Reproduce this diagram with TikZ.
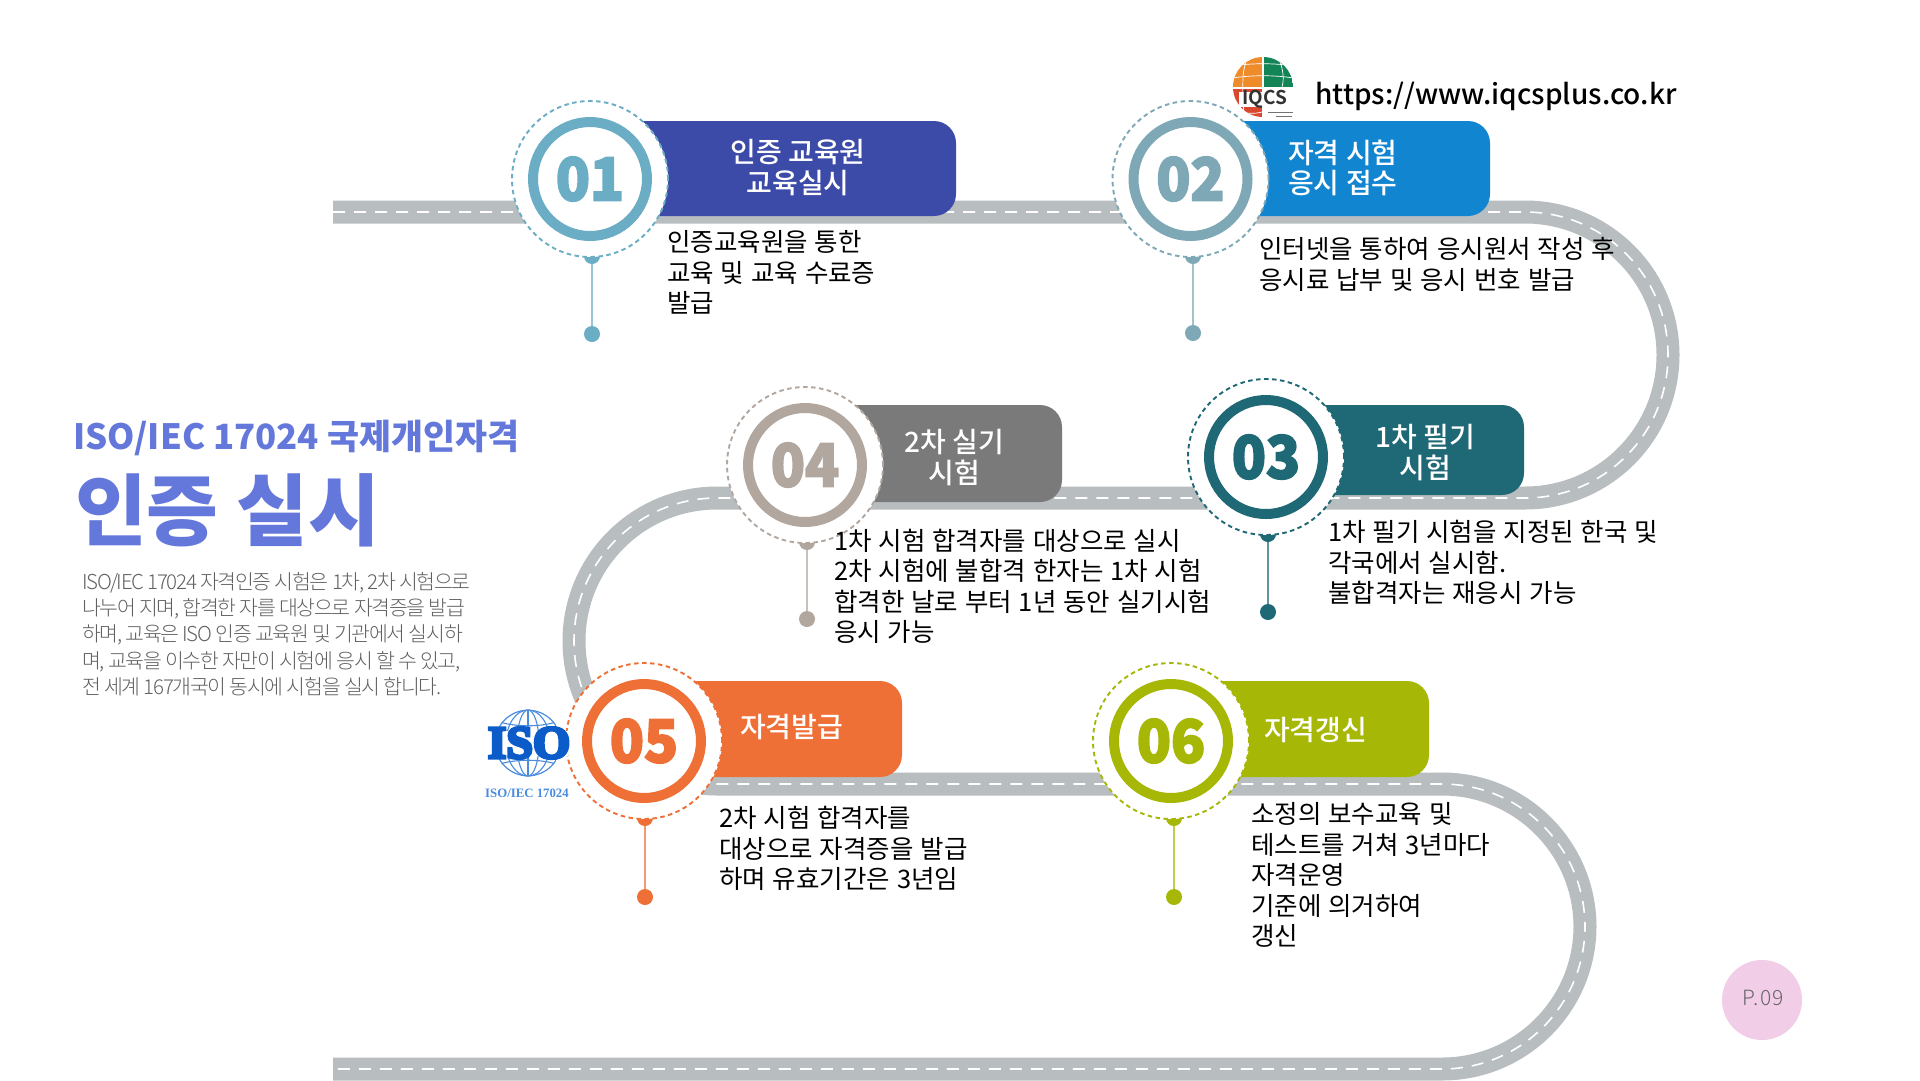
\documentclass[tikz,border=0pt]{standalone}
\usepackage{fontspec}
\setmainfont{Noto Sans CJK KR}
\newfontfamily\kr[WordSpace=1.2]{Noto Sans CJK KR}
\newfontfamily\krm{Noto Sans CJK KR Medium}
\newfontfamily\krb{Noto Sans CJK KR Bold}
\newfontfamily\krk{Noto Sans CJK KR Black}
\newfontfamily\krl[LetterSpace=-6.5]{Noto Sans CJK KR Light}
\newfontfamily\krp[LetterSpace=5]{Noto Sans CJK KR Light}
\newfontfamily\numf[FakeStretch=0.95,FakeBold=3]{Noto Sans CJK KR Black}
\newfontfamily\isof[FakeBold=7,FakeStretch=1.04]{Liberation Serif Bold}
\newfontfamily\isos{Liberation Serif Bold}
\definecolor{road}{HTML}{B8BDC0}
\definecolor{ring1}{HTML}{6AADC4}\definecolor{ban1}{HTML}{3D4BA8}
\definecolor{ring2}{HTML}{7FA8B6}\definecolor{ban2}{HTML}{1285D1}
\definecolor{ring3}{HTML}{1F6875}\definecolor{ban3}{HTML}{1F6875}
\definecolor{ring4}{HTML}{B2A79F}\definecolor{ban4}{HTML}{7A7A7A}
\definecolor{ring5}{HTML}{EF7037}\definecolor{ban5}{HTML}{EF7037}
\definecolor{ring6}{HTML}{A6B805}\definecolor{ban6}{HTML}{A6B805}
\definecolor{titleblue}{HTML}{6477DB}
\definecolor{isoblue}{HTML}{0B5CC8}
\definecolor{globeblue}{HTML}{4A8CDE}
\definecolor{logoor}{HTML}{EE8C2B}
\definecolor{logogr}{HTML}{138456}
\definecolor{logore}{HTML}{D9482E}
\definecolor{pagepink}{HTML}{F1CDE7}
\tikzset{
  ringnode/.style={circle,draw=#1,line width=10pt,fill=white,inner sep=0pt,outer sep=0pt,minimum size=114pt},
  discnode/.style={circle,draw=#1,fill=white,line width=1.9pt,dash pattern=on 4.5pt off 3.5pt,inner sep=0pt,outer sep=0pt,minimum size=156pt},
  dotnode/.style={circle,fill=#1,inner sep=0pt,outer sep=0pt,minimum size=16pt},
  pinline/.style={draw=#1,draw opacity=.7,line width=2.2pt},
  bantext/.style={text=white,font=\krm\fontsize{28}{30.5}\selectfont,inner sep=0pt,align=center},
  bodytext/.style={text=black,anchor=north west,inner sep=0pt,align=left,font=\kr\fontsize{25.5}{30.5}\selectfont},
}
\newcommand{\stepitem}[8]{%
  \fill[ban#1,rounded corners=22pt] (#2,#7) -- (#6,#7) -- (#6,#8) -- (#2,#8) -- cycle;
  \node[dotnode=ring#1] (b#1) at (#4,#3+77) {};
  \node[dotnode=ring#1] (d#1) at (#4,#5) {};
  \draw[pinline=ring#1] (b#1) -- (d#1);
  \node[discnode=ring#1] (c#1) at (#2,#3) {};
  \node[ringnode=ring#1,text=ring#1,font=\numf\fontsize{59}{60}\selectfont] (n#1) at (#2,#3) {0#1};
}
\begin{document}
\begin{tikzpicture}[x=1pt,y=-1pt]
\useasboundingbox (0,0) rectangle (1920,1080);
\fill[white] (0,0) rectangle (1920,1080);
% road
\draw[road,line width=23pt,rounded corners=143pt] (333,212) -- (1668,212) -- (1668,498) -- (574,498) -- (574,784) -- (1585,784) -- (1585,1069) -- (333,1069);
\draw[white,line width=1.6pt,dash pattern=on 12pt off 9pt,rounded corners=143pt] (333,212) -- (1668,212) -- (1668,498) -- (574,498) -- (574,784) -- (1585,784) -- (1585,1069) -- (333,1069);
% steps
\stepitem{1}{590}{179}{592}{334}{956}{121}{216}
\stepitem{2}{1190.5}{179}{1193}{333}{1490}{121}{216}
\stepitem{3}{1266}{457}{1268}{612}{1524}{405}{495}
\stepitem{4}{805}{465}{807}{619}{1062}{405}{502}
\stepitem{5}{644}{741}{645}{897}{902}{681}{777}
\stepitem{6}{1171}{741}{1174}{897}{1429}{681}{777}
% banner texts
\node[bantext] (t1) at (798,167.5) {인증 교육원\\교육실시};
\node[bantext,anchor=west,align=left] (t2) at (1288,168) {자격 시험\\응시 접수};
\node[bantext] (t3) at (1425,452.5) {1차 필기\\시험};
\node[bantext] (t4) at (954,457.5) {2차 실기\\시험};
\node[bantext,anchor=west] (t5) at (740,727.5) {자격발급};
\node[bantext,anchor=west] (t6) at (1264,730.5) {자격갱신};
% body texts
\node[bodytext] (x1) at (667,230) {\strut 인증교육원을 통한\\교육 및 교육 수료증\\발급};
\node[bodytext] (x2) at (1259,237) {\strut 인터넷을 통하여 응시원서 작성 후\\응시료 납부 및 응시 번호 발급};
\node[bodytext] (x3) at (1328,520) {\strut 1차 필기 시험을 지정된 한국 및\\각국에서 실시함.\\불합격자는 재응시 가능};
\node[bodytext] (x4) at (834,528.5) {\strut 1차 시험 합격자를 대상으로 실시\\2차 시험에 불합격 한자는 1차 시험\\합격한 날로 부터 1년 동안 실기시험\\응시 가능};
\node[bodytext] (x5) at (719,806) {\strut 2차 시험 합격자를\\대상으로 자격증을 발급\\하며 유효기간은 3년임};
\node[bodytext] (x6) at (1251,802) {\strut 소정의 보수교육 및\\테스트를 거쳐 3년마다\\자격운영\\기준에 의거하여\\갱신};
% left column
\node[anchor=west,inner sep=0pt,text=titleblue,font=\krk\fontsize{34.8}{40}\selectfont] (h1) at (73,438) {ISO/IEC 17024 국제개인자격};
\node[anchor=west,inner sep=0pt,text=titleblue,font=\krk\fontsize{78}{80}\selectfont] (h2) at (75,510) {인증 실시};
\node[anchor=north west,inner sep=0pt,align=left,text=black!62,font=\krl\fontsize{20.5}{26.2}\selectfont] (p) at (82,571) {\strut ISO/IEC 17024 자격인증 시험은 1차, 2차 시험으로\\나누어 지며, 합격한 자를 대상으로 자격증을 발급\\하며, 교육은 ISO 인증 교육원 및 기관에서 실시하\\며, 교육을 이수한 자만이 시험에 응시 할 수 있고,\\전 세계 167개국이 동시에 시험을 실시 합니다.};
% url
\node[anchor=west,inner sep=0pt,text=black,font=\krm\fontsize{28}{32}\selectfont] (url) at (1315,96) {https://www.iqcsplus.co.kr};
% IQCS logo
\begin{scope}
  \clip (1263,87) circle [radius=30pt];
  \fill[logoor] (1233,57) rectangle (1262,87);
  \fill[logogr] (1264,57) rectangle (1293,87);
  \fill[logore] (1233,89) rectangle (1262,118);
  \foreach \a in {66,78} \draw[white,line width=.7pt] (1233,\a) .. controls (1250,\a-3) and (1276,\a-3) .. (1293,\a);
  \draw[white,line width=.7pt] (1248,57) .. controls (1242,70) and (1242,80) .. (1244,118);
  \draw[white,line width=.7pt] (1278,57) .. controls (1284,70) and (1284,80) .. (1282,87);
  \draw[white,line width=.7pt] (1233,110) .. controls (1245,114) and (1255,114) .. (1262,112);
\end{scope}
\fill[white] (1239,92) rectangle (1290,107);
\node[inner sep=0pt,text=black!80,font=\krb\fontsize{19}{20}\selectfont] (iqcs) at (1265,99) {IQCS};
\draw[black!55,line width=.8pt] (1268,112) -- (1293,112);
\draw[black!55,line width=.8pt] (1276,116) -- (1292,116);
% ISO logo
\begin{scope}
  \clip (528,743) circle [radius=33.5pt];
  \draw[globeblue,line width=1.2pt] (528,743) circle [radius=32.8pt];
  \draw[globeblue,line width=1.1pt] (528,743) ellipse [x radius=11pt,y radius=33pt];
  \draw[globeblue,line width=1.1pt] (528,743) ellipse [x radius=22pt,y radius=33pt];
  \draw[globeblue,line width=1.1pt] (528,710) -- (528,776);
  \draw[globeblue,line width=1.1pt] (500,722) .. controls (515,727) and (541,727) .. (556,722);
  \draw[globeblue,line width=1.1pt] (497,729) .. controls (515,734) and (541,734) .. (559,729);
  \draw[globeblue,line width=1.1pt] (500,764) .. controls (515,759) and (541,759) .. (556,764);
  \draw[globeblue,line width=1.1pt] (497,757) .. controls (515,752) and (541,752) .. (559,757);
\end{scope}
\fill[white] (490,731) rectangle (568,756);
\node[inner sep=0pt,text=isoblue,font=\isof\fontsize{46}{46}\selectfont] (iso) at (529,743) {ISO};
\node[inner sep=0pt,text=globeblue,font=\isos\fontsize{12.8}{14}\selectfont] (isoc) at (527,793) {ISO/IEC 17024};
% page mark
\node[circle,fill=pagepink,inner sep=0pt,minimum size=80pt] (pg) at (1762,1000) {};
\node[inner sep=0pt,text=black!60,font=\krp\fontsize{21}{22}\selectfont] (pgt) at (1763,998) {P.09};
\end{tikzpicture}
\end{document}
